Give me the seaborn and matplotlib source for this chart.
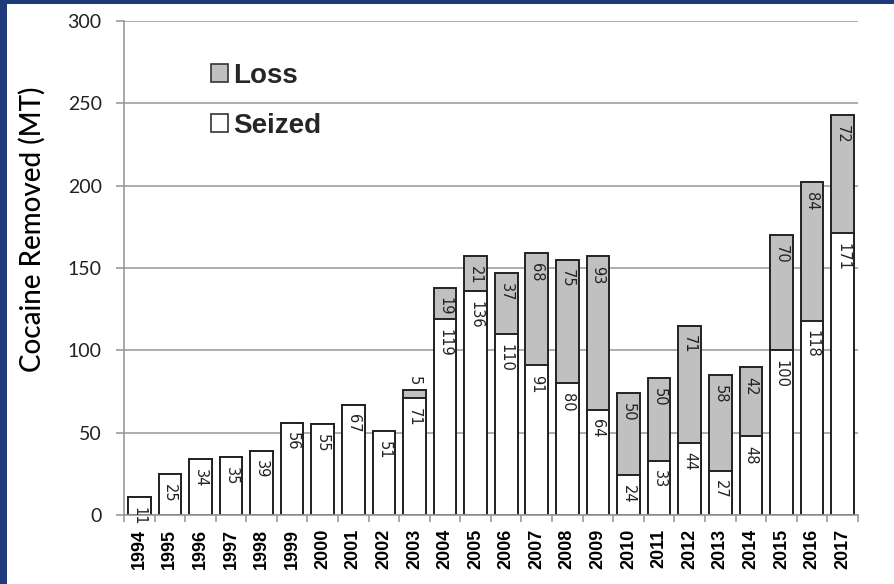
import numpy as np
import pandas as pd
import matplotlib
matplotlib.use("Agg")
import matplotlib.pyplot as plt
import seaborn as sns
from matplotlib.patches import Patch, Rectangle

# Data
years = [str(y) for y in range(1994, 2018)]
seized = [11, 25, 34, 35, 39, 56, 55, 67, 51, 71, 119, 136, 110, 91, 80, 64,
          24, 33, 44, 27, 48, 100, 118, 171]
loss = [0, 0, 0, 0, 0, 0, 0, 0, 0, 5, 19, 21, 37, 68, 75, 93,
        50, 50, 71, 58, 42, 70, 84, 72]
y_ticks = [0, 50, 100, 150, 200, 250, 300]

df = pd.DataFrame({"year": years, "seized": seized, "loss": loss})
df["total"] = df["seized"] + df["loss"]

sns.set_theme(style="white")
plt.rcParams['font.family'] = ['Liberation Sans', 'DejaVu Sans']

fig = plt.figure(figsize=(8.95, 5.84), dpi=100)
ax = fig.add_axes([0.1385, 0.1182, 0.82, 0.8458])

grey = "#c0c0c0"
# total bars in grey, seized drawn over them in white
sns.barplot(data=df, x="year", y="total", color=grey, edgecolor="#222222",
            linewidth=1.4, width=0.74, saturation=1, ax=ax)
sns.barplot(data=df, x="year", y="seized", color="white", edgecolor="#222222",
            linewidth=1.4, width=0.74, saturation=1, ax=ax)

ax.set_ylim(0, 300)
ax.set_xlim(-0.5, len(years) - 0.5)
ax.set_yticks(y_ticks)
ax.yaxis.grid(True, color="#a0a0a0", linewidth=1.2)
ax.set_axisbelow(True)
for s in ["top", "right"]:
    ax.spines[s].set_visible(False)
for s in ["left", "bottom"]:
    ax.spines[s].set_color("#999999")
    ax.spines[s].set_linewidth(1.2)

# value labels, rotated like in Excel
for i, row in df.iterrows():
    ax.annotate(str(row["seized"]), (i, row["seized"]), xytext=(0, -7),
                textcoords="offset points", rotation=270, ha="center", va="top",
                fontsize=10.5, color="#222222", family="DejaVu Sans")
    if row["loss"] > 0:
        if row["loss"] < 10:
            ax.annotate(str(row["loss"]), (i, row["total"]), xytext=(0, 3),
                        textcoords="offset points", rotation=270, ha="center",
                        va="bottom", fontsize=10.5, color="#222222", family="DejaVu Sans")
        else:
            ax.annotate(str(row["loss"]), (i, row["total"]), xytext=(0, -7),
                        textcoords="offset points", rotation=270, ha="center",
                        va="top", fontsize=10.5, color="#222222", family="DejaVu Sans")

# x ticks: labels at centers, tick marks between categories
ax.set_xticks(range(len(years)))
ax.set_xticklabels(years, rotation=90, fontsize=13, fontweight="bold", color="black")
ax.set_xticks(np.arange(-0.5, len(years)), minor=True)
ax.tick_params(axis="x", which="major", length=0, pad=10)
ax.tick_params(axis="x", which="minor", length=5, color="#999999", width=1.2, bottom=True)
ax.tick_params(axis="y", length=6, color="#999999", width=1.2, left=True, pad=10)
for t in ax.get_yticklabels():
    t.set_fontfamily("Lato")
    t.set_fontsize(14)
    t.set_color("#222222")

ax.set_xlabel("")
ax.set_ylabel("Cocaine Removed (MT)", family="Lato", fontsize=20, fontweight="medium",
              color="black")
ax.yaxis.set_label_coords(-0.107, 0.579)

handles = [Patch(facecolor=grey, edgecolor="#333333", linewidth=1.2, label="Loss"),
           Patch(facecolor="white", edgecolor="#333333", linewidth=1.2, label="Seized")]
leg = fig.legend(handles=handles, loc="upper left", bbox_to_anchor=(0.208, 0.935),
                 frameon=False, prop={"family": "Liberation Sans", "weight": "bold", "size": 20},
                 handlelength=0.6, handleheight=0.6, handletextpad=0.2, labelspacing=0.85)

# slide frame
fig.patches.append(Rectangle((0, 0), 0.008, 1, transform=fig.transFigure,
                             facecolor="#1f3a7a", edgecolor="none"))
fig.patches.append(Rectangle((0, 0.993), 1, 0.007, transform=fig.transFigure,
                             facecolor="#1f3a7a", edgecolor="none"))

fig.savefig("out.png", dpi=100)
